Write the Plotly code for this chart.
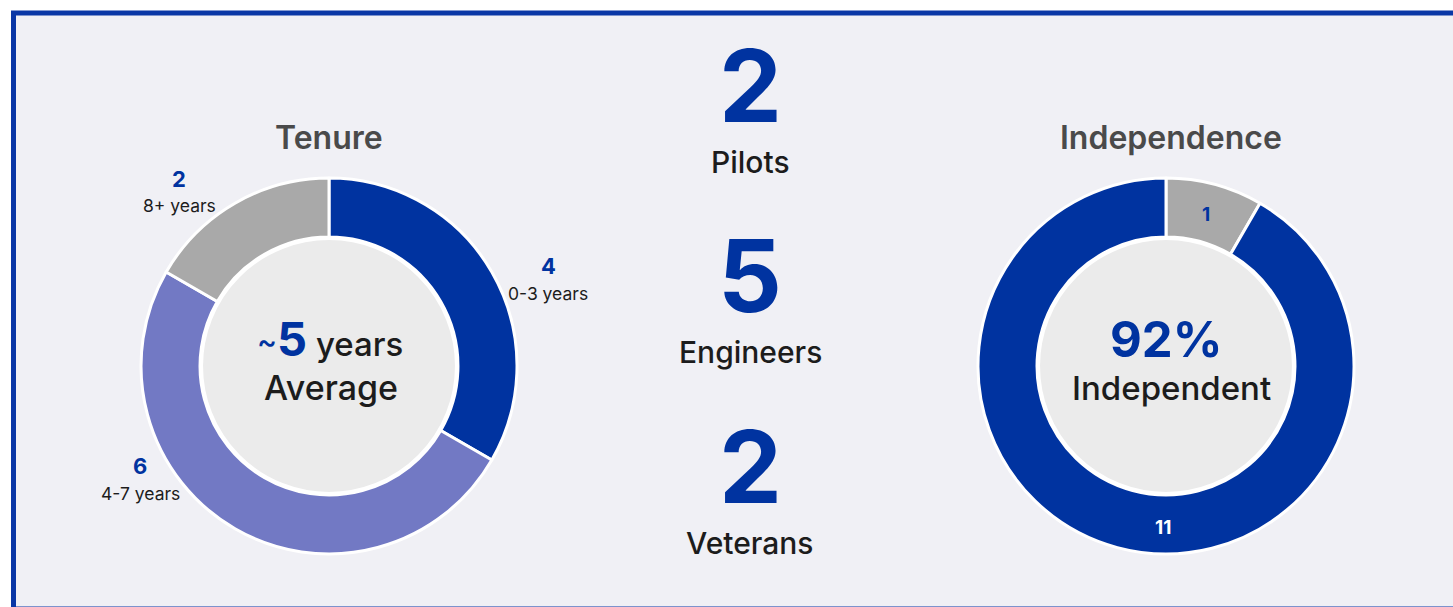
import plotly.graph_objects as go

W, H = 1453, 607

# ---- data ----
tenure_labels = ["0-3 years", "4-7 years", "8+ years"]
tenure_values = [4, 6, 2]
tenure_colors = ["#0033a0", "#7279c4", "#a9a9a9"]

indep_labels = ["Not independent", "Independent"]
indep_values = [1, 11]
indep_colors = ["#a9a9a9", "#0033a0"]

stat_values = [2, 5, 2]
stat_labels = ["Pilots", "Engineers", "Veterans"]

avg_tenure = 5
indep_pct = round(100 * indep_values[1] / sum(indep_values))

BLUE = "#0033a0"
DARK = "#1c1c1c"
FONT = "Inter"


def px(x):
    return x / W


def py(y):
    return 1 - y / H


R = 188
HOLE = 0.686
tc = (329, 366)
ic = (1166, 366)


def dom(c):
    return dict(x=[px(c[0] - R), px(c[0] + R)], y=[py(c[1] + R), py(c[1] - R)])


fig = go.Figure()
fig.add_trace(go.Pie(
    labels=tenure_labels, values=tenure_values, sort=False, direction="clockwise",
    rotation=0, hole=HOLE, domain=dom(tc), textinfo="none", hoverinfo="label+value",
    marker=dict(colors=tenure_colors, line=dict(color="white", width=3)), showlegend=False,
))
fig.add_trace(go.Pie(
    labels=indep_labels, values=indep_values, sort=False, direction="clockwise",
    rotation=0, hole=HOLE, domain=dom(ic), textinfo="none", hoverinfo="label+value",
    marker=dict(colors=indep_colors, line=dict(color="white", width=3)), showlegend=False,
))

shapes = [
    dict(type="rect", xref="paper", yref="paper", x0=px(13.5), x1=px(1470), y0=py(609), y1=py(13),
         fillcolor="#f0f0f5", line=dict(color="#0a37a6", width=5), layer="below"),
]
ri = R * HOLE - 1.5
for c in (tc, ic):
    shapes.append(dict(type="circle", xref="paper", yref="paper",
                       x0=px(c[0] - ri), x1=px(c[0] + ri), y0=py(c[1] + ri), y1=py(c[1] - ri),
                       fillcolor="#ebebeb", line=dict(color="white", width=3), layer="below"))

ann = []


def text(x, y, s, size, color=DARK, weight=500):
    ann.append(dict(x=px(x), y=py(y), xref="paper", yref="paper", text=s, showarrow=False,
                    xanchor="center", yanchor="middle",
                    font=dict(family=FONT, size=size, color=color, weight=weight)))


text(329, 137, "Tenure", 32, "#4a4a4a", 600)
text(1171, 137, "Independence", 32, "#4a4a4a", 600)

# tenure slice labels
lab_pos = [(548, 266), (140, 466), (179, 179)]
for (x, y), v, l in zip(lab_pos, tenure_values, tenure_labels):
    text(x, y, str(v), 22, BLUE, 700)
    text(x, y + 27, l, 17.5, DARK, 400)

text(330, 338,
     f"<span style='color:{BLUE};font-size:30px;baseline-shift:4px'>~</span>"
     f"<span style='color:{BLUE};font-size:47px;font-weight:700'>{avg_tenure}</span> years",
     33, DARK, 500)
text(331, 388, "Average", 34, DARK, 500)

text(1166, 339, f"{indep_pct}%", 49, BLUE, 700)
text(1171, 388, "Independent", 33, DARK, 500)
text(1206, 215, str(indep_values[0]), 19, BLUE, 700)
text(1163, 527, str(indep_values[1]), 19, "white", 700)

# middle stats
ys = [(85, 162), (275, 352), (467, 543)]
for (yn, yl), v, l in zip(ys, stat_values, stat_labels):
    text(750, yn, str(v), 100, BLUE, 700)
    text(750, yl, l, 30, DARK, 500)

fig.update_layout(
    width=W, height=H, margin=dict(l=0, r=0, t=0, b=0),
    paper_bgcolor="white", plot_bgcolor="white",
    shapes=shapes, annotations=ann, font=dict(family=FONT),
)
fig.write_html("out.html")
